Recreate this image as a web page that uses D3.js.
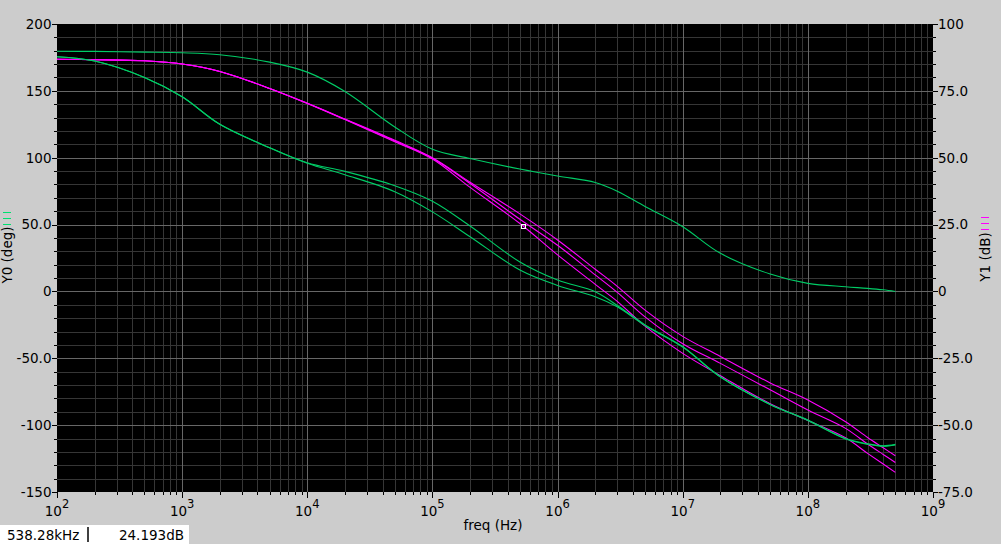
<!DOCTYPE html>
<html><head><meta charset="utf-8">
<script src="https://cdn.jsdelivr.net/npm/d3@7"></script>
<style>
html,body{margin:0;padding:0;background:#cccccc;}
svg{display:block;font-family:"DejaVu Sans",sans-serif;}
</style></head>
<body><svg id="c" width="1001" height="544"></svg>
<script>
// ---- data ----
const freq = [1e2,2e2,5e2,1e3,2e3,5e3,1e4,2e4,5e4,1e5,2e5,5e5,1e6,2e6,3e6,5e6,1e7,2e7,5e7,1e8,2e8,3e8,4e8,5e8];
// Y0 phase curves (deg)
const phaseA = [179.6,179.5,179,178.5,177,171.5,164,149.5,123,106.3,99.4,91.5,86.3,81.5,75,63.5,48.4,28.5,13,6,3.5,2.3,1.2,0];
const phaseB = [175.5,172.3,160,145.6,125,107.5,96.3,89.8,79.1,67.5,48.9,22,8.5,-0.2,-10.5,-25,-41.3,-63.8,-84.5,-96.2,-110,-114,-115.5,-114.4];
const phaseC = [175.5,172.3,160,145.6,125,107.5,95.8,87.3,74.6,59.5,40.9,16,4.5,-3.9,-11.5,-25.5,-41.6,-64,-84.5,-96.5,-110.3,-114.3,-115.8,-114.8];
// Y1 gain curves (dB)
const gainA = [86.8,86.65,86.25,85.05,82.25,75.9,70.35,64.45,56.5,50,40.85,29,19.25,8.3,1.9,-7,-16.8,-24.3,-34.2,-40.6,-48.7,-54.6,-58.45,-61.45];
const gainB = [86.8,86.65,86.25,85.05,82.25,75.9,70.35,64.35,56.25,49.8,40.35,27,17.25,6.2,-0.35,-9.5,-19.55,-26.9,-36.8,-44.35,-51.2,-57.05,-60.95,-63.95];
const gainC = [86.8,86.65,86.25,85.05,82.25,75.9,70.3,64.25,56,49.5,38.9,25.4,13.65,2.65,-3.7,-13,-23.15,-31.5,-42,-48.25,-54.75,-60.55,-64.55,-67.65];
// axis ticks
const y0Ticks = [200,150,100,50,0,-50,-100,-150];
const y0Labels = ["200","150","100","50.0","0","-50.0","-100","-150"];
const y1Ticks = [100,75,50,25,0,-25,-50,-75];
const y1Labels = ["100","75.0","50.0","25.0","0","-25.0","-50.0","-75.0"];
const xDecades = [2,3,4,5,6,7,8,9];
const cursorFreq = 538.28e3, cursorDb = 24.193;

// ---- layout ----
const L=57, R=933, T=24, B=492;
const svg = d3.select("#c");
const x = d3.scaleLog().domain([1e2,1e9]).range([L,R]);
const y0 = d3.scaleLinear().domain([-150,200]).range([B,T]);
const y1 = d3.scaleLinear().domain([-75,100]).range([B,T]);
const px = v => Math.round(v)+0.5;

svg.append("rect").attr("x",L).attr("y",T).attr("width",R-L).attr("height",B-T).attr("fill","#000");

// grid
const minorX = [], majorX = xDecades.map(d=>Math.pow(10,d));
for (let d=2; d<9; d++) for (let k=2;k<=9;k++) minorX.push(k*Math.pow(10,d));
const minorY = d3.range(-150,201,10).filter(v=>v%50!==0);
const majorY = d3.range(-150,201,50);
const g = svg.append("g").attr("shape-rendering","crispEdges");
g.selectAll(".mx").data(minorX).join("line").attr("x1",d=>px(x(d))).attr("x2",d=>px(x(d))).attr("y1",T).attr("y2",B).attr("stroke","#363636");
g.selectAll(".my").data(minorY).join("line").attr("y1",d=>px(y0(d))).attr("y2",d=>px(y0(d))).attr("x1",L).attr("x2",R).attr("stroke","#363636");
g.selectAll(".Mx").data(majorX.slice(1,-1)).join("line").attr("x1",d=>px(x(d))).attr("x2",d=>px(x(d))).attr("y1",T).attr("y2",B).attr("stroke","#676767");
g.selectAll(".My").data(majorY.slice(1,-1)).join("line").attr("y1",d=>px(y0(d))).attr("y2",d=>px(y0(d))).attr("x1",L).attr("x2",R).attr("stroke","#676767");

// ticks
const tk = svg.append("g").attr("stroke","#000").attr("shape-rendering","crispEdges");
d3.range(-150,201,10).forEach(v=>{
  const len = v%50===0?5:3, yy=px(y0(v));
  tk.append("line").attr("x1",L-len).attr("x2",L).attr("y1",yy).attr("y2",yy);
  tk.append("line").attr("x1",R).attr("x2",R+len).attr("y1",yy).attr("y2",yy);
});
majorX.concat(minorX).forEach(f=>{
  const len = majorX.includes(f)?6:3, xx=px(x(f));
  tk.append("line").attr("x1",xx).attr("x2",xx).attr("y1",B).attr("y2",B+len);
});

// tick labels
const fs = "13.5px";
svg.append("g").selectAll("text").data(y0Ticks).join("text")
  .attr("x",L-5.5).attr("y",d=>y0(d)).attr("dy","0.36em").attr("text-anchor","end")
  .attr("font-size",fs).attr("fill","#000").text((d,i)=>y0Labels[i]);
svg.append("g").selectAll("text").data(y1Ticks).join("text")
  .attr("x",R+5).attr("y",d=>y1(d)).attr("dy","0.36em").attr("text-anchor","start")
  .attr("font-size",fs).attr("fill","#000").text((d,i)=>y1Labels[i]);
const xl = svg.append("g").selectAll("text").data(xDecades).join("text")
  .attr("x",d=>x(Math.pow(10,d))).attr("y",515.5).attr("text-anchor","middle")
  .attr("font-size",fs).attr("fill","#000");
xl.append("tspan").text("10");
xl.append("tspan").attr("dy",-7.5).attr("font-size","11.5px").text(d=>d);

// axis titles
svg.append("text").attr("x",493).attr("y",530).attr("text-anchor","middle").attr("font-size",fs).text("freq (Hz)");
svg.append("text").attr("transform","translate(11.5,255) rotate(-90)").attr("text-anchor","middle").attr("font-size",fs).text("Y0 (deg)");
svg.append("text").attr("transform","translate(990,257) rotate(-90)").attr("text-anchor","middle").attr("font-size",fs).text("Y1 (dB)");
const mk = svg.append("g").attr("shape-rendering","crispEdges");
[212.5,218.5,224.5].forEach(yy=>mk.append("line").attr("x1",3).attr("x2",11).attr("y1",yy).attr("y2",yy).attr("stroke","#00e070").attr("stroke-width",1.3));
[217.5,223.5,229.5].forEach(yy=>mk.append("line").attr("x1",981).attr("x2",989).attr("y1",yy).attr("y2",yy).attr("stroke","#ff00ff").attr("stroke-width",1.3));

// curves
svg.append("clipPath").attr("id","pc").append("rect").attr("x",L).attr("y",T).attr("width",R-L).attr("height",B-T);
const cg = svg.append("g").attr("clip-path","url(#pc)");
const lineFn = (ys, sc) => d3.line().curve(d3.curveCatmullRom.alpha(0.5)).x((d,i)=>x(freq[i])).y((d,i)=>sc(ys[i]))(freq);
[gainA,gainB,gainC].forEach(s=>cg.append("path").attr("d",lineFn(s,y1)).attr("fill","none").attr("stroke","#ff00ff").attr("stroke-width",1.1));
[phaseA,phaseB,phaseC].forEach(s=>cg.append("path").attr("d",lineFn(s,y0)).attr("fill","none").attr("stroke","#00cc66").attr("stroke-width",1.1));

// cursor marker
const cx = Math.round(x(cursorFreq)), cy = Math.round(y1(cursorDb));
svg.append("rect").attr("x",cx-2.5).attr("y",cy-2.5).attr("width",4).attr("height",4).attr("fill","none").attr("stroke","#fff").attr("stroke-width",1).attr("shape-rendering","crispEdges");

// status box
svg.append("rect").attr("x",0).attr("y",525).attr("width",189).attr("height",19).attr("fill","#fff");
svg.append("line").attr("x1",88).attr("x2",88).attr("y1",527).attr("y2",542).attr("stroke","#000").attr("stroke-width",1.5);
svg.append("text").attr("x",7).attr("y",540).attr("font-size",fs).text((cursorFreq/1e3).toFixed(2)+"kHz");
svg.append("text").attr("x",184).attr("y",540).attr("text-anchor","end").attr("font-size",fs).text(cursorDb.toFixed(3)+"dB");
</script></body></html>
